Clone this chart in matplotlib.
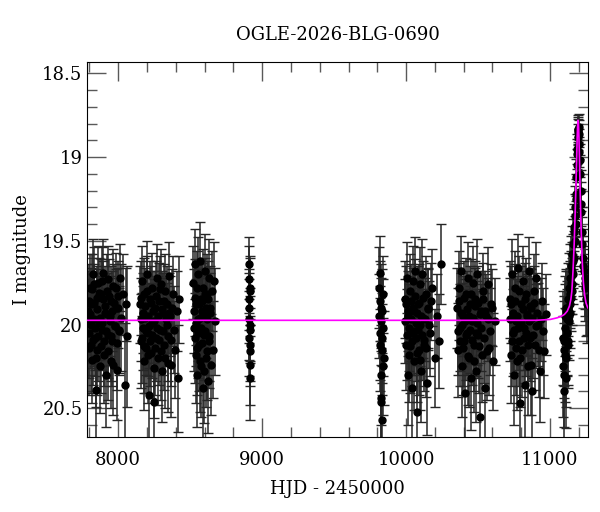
import matplotlib
matplotlib.use("Agg")
import matplotlib.pyplot as plt
from matplotlib.ticker import MultipleLocator, FormatStrFormatter

plt.rcParams['font.family'] = ['DejaVu Serif']

# photometry, one season per block: HJD-2450000, I mag, error
hjd_s1 = [7792, 7797, 7803, 7808, 7814, 7820, 7826, 7831, 7838, 7843, 7849, 7855, 7861, 7868,
          7874, 7880, 7887, 7893, 7900, 7906, 7913, 7919, 7926, 7932, 7940, 7947, 7953, 7960,
          7967, 7974, 7981, 7988, 7995, 8003, 8012, 8022, 8034, 8045, 8052, 8060,
          7789, 7795, 7800, 7806, 7811, 7817, 7823, 7829, 7835, 7841, 7846, 7852, 7858, 7865,
          7871, 7877, 7884, 7890, 7897, 7903, 7910, 7916, 7923, 7929, 7936, 7943, 7950, 7957,
          7964, 7971, 7978, 7985, 7992, 7999, 8008]
mag_s1 = [19.92, 20.05, 19.78, 20.12, 19.88, 20.21, 19.70, 19.97, 20.08, 20.39, 19.84, 20.15,
          19.75, 19.99, 20.25, 19.82, 20.03, 19.69, 20.18, 19.93, 20.30, 19.80, 20.06, 19.73,
          19.95, 20.22, 19.86, 20.10, 19.77, 20.01, 19.90, 20.27, 19.83, 20.04, 19.72, 19.96,
          19.82, 20.36, 19.88, 20.07,
          19.98, 19.86, 20.14, 19.94, 20.00, 19.79, 20.09, 19.87, 19.76, 20.02, 20.20, 19.91,
          20.07, 19.81, 19.96, 20.13, 19.74, 19.99, 19.85, 20.10, 19.89, 20.04, 19.94, 20.16,
          19.83, 19.98, 20.07, 19.92, 20.24, 19.87, 20.01, 19.78, 20.11, 19.90, 20.03]
err_s1 = [0.24, 0.27, 0.20, 0.29, 0.22, 0.26, 0.21, 0.28, 0.23, 0.30, 0.19, 0.27, 0.22, 0.25,
          0.28, 0.21, 0.24, 0.20, 0.29, 0.23, 0.31, 0.22, 0.26, 0.20, 0.24, 0.28, 0.21, 0.27,
          0.22, 0.25, 0.23, 0.30, 0.21, 0.26, 0.20, 0.32, 0.24, 0.37, 0.22, 0.42,
          0.25, 0.22, 0.28, 0.24, 0.26, 0.21, 0.27, 0.23, 0.22, 0.25, 0.29, 0.24, 0.27, 0.21,
          0.25, 0.28, 0.20, 0.26, 0.23, 0.27, 0.24, 0.26, 0.25, 0.29, 0.22, 0.26, 0.27, 0.24,
          0.30, 0.23, 0.25, 0.21, 0.28, 0.24, 0.26]

hjd_s2 = [8152, 8158, 8164, 8170, 8176, 8182, 8189, 8195, 8201, 8207, 8213, 8219, 8226, 8232,
          8238, 8245, 8251, 8257, 8264, 8270, 8277, 8284, 8291, 8298, 8305, 8312, 8320, 8328,
          8336, 8344, 8352, 8360, 8370, 8382, 8395, 8405, 8415, 8422,
          8155, 8161, 8167, 8173, 8179, 8185, 8192, 8198, 8204, 8210, 8216, 8222, 8229, 8235,
          8241, 8248, 8254, 8260, 8267, 8274, 8281, 8288, 8295, 8302, 8309, 8316, 8324, 8332,
          8340, 8348, 8356, 8365, 8376, 8388]
mag_s2 = [19.88, 20.10, 19.74, 20.02, 20.22, 19.82, 19.96, 20.14, 19.70, 20.05, 20.42, 19.85,
          20.17, 19.78, 19.99, 20.26, 20.46, 19.90, 20.08, 19.72, 20.20, 19.86, 20.03, 19.76,
          20.28, 19.93, 20.12, 19.80, 20.00, 20.23, 19.71, 19.95, 20.09, 19.82, 20.15, 19.92,
          20.32, 19.85,
          19.97, 19.84, 20.08, 19.93, 20.13, 19.89, 20.04, 19.80, 20.18, 19.95, 20.01, 20.10,
          19.87, 20.06, 19.92, 19.98, 20.14, 19.83, 20.02, 19.95, 20.09, 19.79, 20.16, 19.91,
          20.04, 19.86, 20.20, 19.97, 19.88, 20.07, 19.93, 20.24, 19.90, 20.03]
err_s2 = [0.23, 0.28, 0.21, 0.25, 0.29, 0.22, 0.24, 0.27, 0.20, 0.26, 0.31, 0.23, 0.27, 0.21,
          0.24, 0.30, 0.32, 0.22, 0.26, 0.20, 0.28, 0.23, 0.25, 0.21, 0.30, 0.24, 0.27, 0.22,
          0.25, 0.29, 0.20, 0.24, 0.28, 0.23, 0.29, 0.24, 0.32, 0.26,
          0.25, 0.22, 0.27, 0.24, 0.28, 0.23, 0.26, 0.21, 0.29, 0.24, 0.25, 0.27, 0.22, 0.26,
          0.24, 0.25, 0.28, 0.21, 0.26, 0.24, 0.27, 0.20, 0.29, 0.23, 0.26, 0.22, 0.30, 0.25,
          0.23, 0.27, 0.24, 0.31, 0.23, 0.26]

hjd_s3 = [8522, 8527, 8532, 8537, 8542, 8547, 8552, 8557, 8562, 8567, 8572, 8577, 8582, 8587,
          8592, 8597, 8602, 8607, 8612, 8617, 8622, 8628, 8634, 8641, 8648, 8655, 8662, 8670,
          8524, 8530, 8535, 8540, 8545, 8550, 8555, 8560, 8565, 8570, 8575, 8580, 8585, 8590,
          8595, 8600, 8605, 8610, 8615, 8620, 8625, 8631, 8638, 8645]
mag_s3 = [19.75, 20.02, 19.64, 20.18, 19.88, 20.30, 19.70, 19.97, 20.12, 19.62, 19.85, 20.25,
          19.92, 20.38, 19.78, 20.06, 19.68, 20.20, 19.95, 19.82, 20.34, 19.72, 20.10, 19.90,
          19.80, 20.15, 19.74, 19.98,
          19.92, 20.08, 19.84, 19.99, 20.14, 19.78, 20.05, 19.88, 20.22, 19.96, 20.02, 19.86,
          20.11, 19.94, 20.28, 19.82, 20.04, 19.90, 20.16, 19.97, 19.85, 20.07, 19.93, 20.24]
err_s3 = [0.22, 0.26, 0.21, 0.29, 0.24, 0.31, 0.22, 0.25, 0.28, 0.23, 0.24, 0.30, 0.25, 0.32,
          0.23, 0.27, 0.22, 0.29, 0.25, 0.24, 0.31, 0.23, 0.28, 0.25, 0.24, 0.29, 0.23, 0.32,
          0.25, 0.27, 0.23, 0.26, 0.28, 0.22, 0.27, 0.24, 0.30, 0.25, 0.26, 0.23, 0.28, 0.25,
          0.31, 0.22, 0.26, 0.24, 0.29, 0.25, 0.23, 0.27, 0.24, 0.30]

hjd_s4 = [8908, 8910, 8911, 8912, 8913, 8914, 8915, 8916, 8917, 8918, 8909, 8912, 8914, 8916]
mag_s4 = [19.64, 19.73, 19.85, 19.97, 20.03, 20.12, 20.16, 20.24, 20.32, 19.78,
          19.90, 20.08, 19.80, 20.00]
err_s4 = [0.16, 0.20, 0.18, 0.24, 0.20, 0.22, 0.21, 0.24, 0.25, 0.19, 0.21, 0.23, 0.20, 0.22]

hjd_s5 = [9812, 9816, 9820, 9823, 9826, 9829, 9832, 9835, 9838, 9841, 9844,
          9814, 9818, 9822, 9825, 9828, 9831, 9834, 9837]
mag_s5 = [19.78, 20.05, 19.69, 20.46, 19.90, 20.44, 20.15, 20.57, 19.82, 20.02, 20.20,
          19.95, 20.12, 19.86, 20.30, 19.98, 20.08, 19.92, 20.25]
err_s5 = [0.24, 0.28, 0.22, 0.32, 0.26, 0.34, 0.27, 0.32, 0.23, 0.29, 0.28,
          0.25, 0.28, 0.24, 0.30, 0.26, 0.27, 0.25, 0.29]

hjd_s6 = [9992, 9998, 10004, 10010, 10016, 10022, 10028, 10034, 10040, 10046, 10052, 10058,
          10064, 10070, 10076, 10082, 10088, 10094, 10100, 10107, 10114, 10121, 10128, 10136,
          10145, 10155, 10168, 10182, 10198, 10215, 10232, 10246,
          9995, 10001, 10007, 10013, 10019, 10025, 10031, 10037, 10043, 10049, 10055, 10061,
          10067, 10073, 10079, 10085, 10091, 10097, 10104, 10111, 10118, 10125, 10132, 10140,
          10150, 10160, 10175]
mag_s6 = [19.85, 20.12, 19.72, 20.30, 19.95, 20.18, 19.80, 20.05, 20.38, 19.74, 19.92, 20.22,
          19.68, 20.08, 20.52, 19.88, 20.15, 19.76, 20.00, 20.28, 19.70, 19.96, 20.12, 19.82,
          20.35, 19.90, 20.05, 19.78, 20.20, 19.95, 20.10, 19.64,
          19.98, 19.88, 20.06, 19.92, 20.02, 20.13, 19.86, 19.97, 20.10, 19.90, 20.04, 19.83,
          19.99, 20.17, 19.93, 20.03, 19.87, 20.21, 19.95, 20.06, 19.84, 20.09, 19.97, 20.14,
          19.91, 20.00, 19.86]
err_s6 = [0.23, 0.27, 0.21, 0.30, 0.24, 0.28, 0.22, 0.25, 0.32, 0.21, 0.24, 0.29, 0.20, 0.26,
          0.32, 0.23, 0.27, 0.22, 0.25, 0.30, 0.21, 0.24, 0.28, 0.23, 0.31, 0.24, 0.26, 0.23,
          0.29, 0.25, 0.28, 0.24,
          0.25, 0.23, 0.27, 0.24, 0.26, 0.28, 0.22, 0.25, 0.27, 0.24, 0.26, 0.22, 0.25, 0.29,
          0.24, 0.26, 0.23, 0.30, 0.25, 0.27, 0.22, 0.28, 0.25, 0.29, 0.24, 0.26, 0.23]

hjd_s7 = [10355, 10362, 10369, 10376, 10383, 10390, 10397, 10404, 10411, 10418, 10425, 10432,
          10439, 10446, 10453, 10460, 10467, 10474, 10481, 10488, 10495, 10503, 10511, 10519,
          10527, 10536, 10545, 10555, 10566, 10578, 10592, 10606, 10620,
          10358, 10365, 10372, 10379, 10386, 10393, 10400, 10407, 10414, 10421, 10428, 10435,
          10442, 10449, 10456, 10463, 10470, 10477, 10484, 10491, 10499, 10507, 10515, 10523,
          10532, 10541, 10550, 10560, 10572, 10585, 10599]
mag_s7 = [19.90, 20.15, 19.78, 20.02, 19.68, 20.25, 19.95, 20.10, 20.41, 19.82, 20.05, 19.72,
          20.20, 19.88, 20.32, 19.98, 19.75, 20.12, 19.85, 20.28, 19.70, 20.06, 20.55, 19.92,
          20.18, 19.80, 20.38, 19.95, 19.76, 20.14, 19.88, 20.22, 19.98,
          20.04, 19.86, 20.10, 19.93, 20.00, 20.14, 19.84, 19.98, 20.06, 19.91, 20.19, 19.95,
          20.03, 19.82, 20.09, 19.96, 20.22, 19.89, 20.05, 19.99, 19.87, 20.13, 19.94, 20.02,
          19.85, 20.08, 19.92, 20.16, 19.97, 20.04, 19.90]
err_s7 = [0.24, 0.28, 0.22, 0.26, 0.21, 0.30, 0.24, 0.27, 0.32, 0.22, 0.25, 0.21, 0.29, 0.23,
          0.31, 0.25, 0.22, 0.28, 0.23, 0.30, 0.21, 0.26, 0.32, 0.24, 0.28, 0.23, 0.31, 0.25,
          0.22, 0.28, 0.24, 0.29, 0.26,
          0.26, 0.23, 0.27, 0.24, 0.25, 0.28, 0.22, 0.25, 0.27, 0.23, 0.29, 0.24, 0.26, 0.21,
          0.27, 0.25, 0.30, 0.23, 0.26, 0.25, 0.22, 0.28, 0.24, 0.26, 0.22, 0.27, 0.24, 0.29,
          0.25, 0.26, 0.23]

hjd_s8 = [10722, 10729, 10736, 10743, 10750, 10757, 10764, 10771, 10778, 10785, 10792, 10799,
          10806, 10813, 10820, 10827, 10834, 10841, 10848, 10855, 10862, 10870, 10878, 10886,
          10895, 10905, 10916, 10928, 10942, 10958, 10975,
          10725, 10732, 10739, 10746, 10753, 10760, 10767, 10774, 10781, 10788, 10795, 10802,
          10809, 10816, 10823, 10830, 10837, 10844, 10851, 10858, 10866, 10874, 10882, 10890,
          10900, 10910, 10922, 10935, 10950]
mag_s8 = [19.85, 20.18, 19.70, 20.05, 20.30, 19.78, 19.98, 20.22, 19.66, 20.10, 20.47, 19.88,
          20.15, 19.74, 20.02, 20.36, 19.82, 19.95, 20.25, 19.68, 20.08, 19.90, 20.40, 19.80,
          20.12, 19.72, 20.00, 20.28, 19.86, 20.16, 19.94,
          19.97, 19.88, 20.10, 19.93, 20.03, 19.86, 20.14, 19.95, 20.02, 19.80, 20.20, 19.99,
          19.91, 20.08, 19.85, 20.05, 19.94, 20.12, 19.98, 19.89, 20.24, 19.96, 20.06, 19.87,
          20.01, 19.93, 20.15, 19.97, 20.04]
err_s8 = [0.23, 0.29, 0.21, 0.26, 0.30, 0.22, 0.25, 0.29, 0.20, 0.27, 0.32, 0.23, 0.28, 0.21,
          0.25, 0.31, 0.22, 0.24, 0.29, 0.20, 0.26, 0.23, 0.32, 0.22, 0.27, 0.21, 0.25, 0.30,
          0.23, 0.28, 0.24,
          0.25, 0.23, 0.27, 0.24, 0.26, 0.22, 0.28, 0.24, 0.25, 0.21, 0.29, 0.25, 0.23, 0.27,
          0.22, 0.26, 0.24, 0.28, 0.25, 0.23, 0.30, 0.24, 0.26, 0.22, 0.25, 0.24, 0.28, 0.25,
          0.26]

hjd_s9 = [11092, 11095, 11098, 11102, 11106, 11110, 11114, 11118, 11122, 11126, 11130, 11134,
          11138, 11142, 11146, 11150, 11154, 11158, 11162, 11165, 11168, 11172, 11175, 11178,
          11181, 11184, 11187, 11190, 11193, 11196, 11199, 11203, 11207, 11212, 11218, 11222,
          11228, 11234, 11240, 11246, 11252, 11258,
          11093, 11097, 11100, 11104, 11108, 11112, 11116, 11120, 11124, 11128, 11132, 11136,
          11140, 11144, 11148, 11152, 11156, 11160, 11170, 11177, 11183, 11189, 11194, 11198,
          11201, 11205, 11210, 11215, 11225, 11231, 11243, 11255]
mag_s9 = [20.25, 20.10, 20.40, 19.95, 20.18, 20.32, 19.90, 20.05, 19.85, 20.12, 19.78, 19.95,
          19.72, 19.88, 19.65, 19.80, 19.58, 19.70, 19.52, 19.60, 19.45, 19.50, 19.35, 19.40,
          19.22, 19.25, 19.05, 18.98, 18.88, 18.85, 18.82, 18.92, 19.02, 19.20, 19.33, 19.45,
          19.60, 19.68, 19.72, 19.78, 19.85, 19.88,
          20.08, 20.30, 20.15, 20.02, 19.92, 20.20, 20.05, 19.97, 20.10, 19.90, 19.98, 19.82,
          19.93, 19.75, 19.84, 19.68, 19.76, 19.62, 19.42, 19.30, 19.12, 18.95, 18.84, 18.83,
          18.86, 18.97, 19.10, 19.28, 19.52, 19.65, 19.75, 19.84]
err_s9 = [0.30, 0.27, 0.32, 0.24, 0.28, 0.30, 0.23, 0.26, 0.22, 0.26, 0.21, 0.23, 0.20, 0.22,
          0.18, 0.20, 0.17, 0.18, 0.15, 0.16, 0.14, 0.15, 0.13, 0.14, 0.12, 0.12, 0.10, 0.09,
          0.08, 0.08, 0.08, 0.09, 0.10, 0.12, 0.14, 0.15, 0.17, 0.18, 0.19, 0.20, 0.22, 0.23,
          0.28, 0.31, 0.29, 0.26, 0.24, 0.29, 0.25, 0.23, 0.26, 0.22, 0.23, 0.20, 0.21, 0.19,
          0.20, 0.17, 0.18, 0.16, 0.14, 0.13, 0.11, 0.09, 0.08, 0.08, 0.08, 0.09, 0.11, 0.13,
          0.16, 0.18, 0.20, 0.22]

seasons = [(hjd_s1, mag_s1, err_s1), (hjd_s2, mag_s2, err_s2), (hjd_s3, mag_s3, err_s3),
           (hjd_s4, mag_s4, err_s4), (hjd_s5, mag_s5, err_s5), (hjd_s6, mag_s6, err_s6),
           (hjd_s7, mag_s7, err_s7), (hjd_s8, mag_s8, err_s8), (hjd_s9, mag_s9, err_s9)]

# microlensing model curve
model_hjd = [7785, 10900, 11000, 11050, 11080, 11100, 11120, 11135, 11145, 11152, 11160, 11168,
             11175, 11180, 11185, 11189, 11192, 11195, 11198, 11201, 11205, 11209, 11214, 11219,
             11225, 11232, 11240, 11250, 11262]
model_mag = [19.975, 19.975, 19.97, 19.96, 19.95, 19.94, 19.92, 19.89, 19.85, 19.80, 19.68, 19.52,
             19.33, 19.18, 19.02, 18.88, 18.81, 18.78, 18.80, 18.88, 19.02, 19.18, 19.36, 19.50,
             19.64, 19.75, 19.82, 19.87, 19.90]

fig = plt.figure(figsize=(6, 5.12), dpi=100)
ax = fig.add_axes([0.1455, 0.1471, 0.834, 0.7312])

for hjd, mag, err in seasons:
    ax.errorbar(hjd, mag, yerr=err, fmt='o', color='black', ms=5,
                ecolor='0.15', elinewidth=1.1, capsize=3.5, capthick=1)

ax.plot(model_hjd, model_mag, color='magenta', lw=1.2, zorder=5)

ax.set_xlim(7785, 11262)
ax.set_ylim(20.67, 18.434)

ax.xaxis.set_major_locator(MultipleLocator(1000))
ax.xaxis.set_minor_locator(MultipleLocator(200))
ax.yaxis.set_major_locator(MultipleLocator(0.5))
ax.yaxis.set_minor_locator(MultipleLocator(0.1))
ax.yaxis.set_major_formatter(FormatStrFormatter('%g'))
ax.tick_params(which='both', direction='in', top=True, right=True, color='0.35',
               labelsize=13)
ax.tick_params(which='major', length=14, width=1)
ax.tick_params(which='minor', length=7, width=1)
ax.tick_params(axis='x', pad=10)

ax.set_xlabel("HJD - 2450000", fontsize=13, labelpad=8)
ax.set_ylabel("I magnitude", fontsize=13, labelpad=8)
ax.set_title("OGLE-2026-BLG-0690", fontsize=13, pad=16)

fig.savefig("out.png", dpi=100)
